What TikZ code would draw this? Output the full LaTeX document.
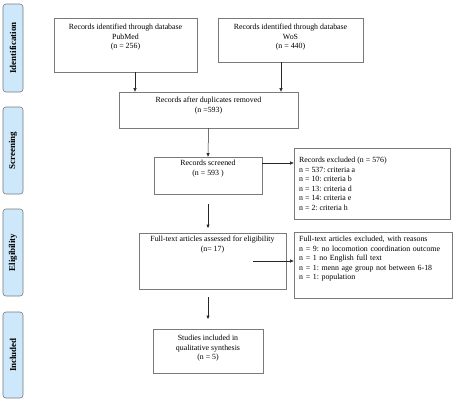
\documentclass[tikz,border=0pt]{standalone}
\usepackage{fontspec}
\setmainfont{Liberation Serif}
\usetikzlibrary{arrows.meta}
\definecolor{sidefill}{HTML}{CDE8FA}
\definecolor{boxline}{HTML}{7A7A7A}
\frenchspacing
\begin{document}
\begin{tikzpicture}[x=1bp,y=-1bp,
  box/.style={draw=boxline,line width=0.7bp,inner sep=0pt},
  sidebox/.style={draw=boxline,fill=sidefill,line width=0.6bp,rounded corners=3bp,inner sep=0pt},
  txt/.style={inner sep=0pt,align=center,font=\fontsize{7.9}{9.6}\selectfont,anchor=north},
  ltxt/.style={inner sep=0pt,align=left,font=\fontsize{7.9}{9.6}\selectfont,anchor=north west},
  sidetxt/.style={inner sep=0pt,rotate=90,font=\fontsize{9}{10}\selectfont\bfseries},
  arr/.style={-{Triangle[length=3.5bp,width=3bp]},line width=0.5bp,black!85}]
\useasboundingbox (0,0) rectangle (453,400);
\fill[white] (0,0) rectangle (453,400);
% side labels
\node[sidebox,minimum width=20bp,minimum height=88bp] (sid) at (13,48) {};
\node[sidebox,minimum width=20bp,minimum height=87bp] (sscr) at (13,150.5) {};
\node[sidebox,minimum width=20bp,minimum height=87bp] (selig) at (13,252.5) {};
\node[sidebox,minimum width=20bp,minimum height=86bp] (sinc) at (13,355) {};
\node[sidetxt] (tid) at (sid.center) {Identification};
\node[sidetxt] (tscr) at (sscr.center) {Screening};
\node[sidetxt] (telig) at (selig.center) {Eligibility};
\node[sidetxt] (tinc) at (sinc.center) {Included};
% boxes
\node[box,minimum width=143bp,minimum height=54bp] (pub) at (125.5,45) {};
\node[box,minimum width=145bp,minimum height=44bp] (wos) at (290.5,40) {};
\node[box,minimum width=179bp,minimum height=36bp] (dup) at (208.5,110) {};
\node[box,minimum width=108bp,minimum height=37bp] (scr) at (208,175.5) {};
\node[box,minimum width=156bp,minimum height=71bp] (exc1) at (372,183.5) {};
\node[box,minimum width=147bp,minimum height=56bp] (full) at (212.5,261) {};
\node[box,minimum width=158bp,minimum height=66bp] (exc2) at (373,265) {};
\node[box,minimum width=110bp,minimum height=44bp] (inc) at (208,351) {};
% texts
\node[txt] (tpub) at (125.5,24) {Records identified through database\\PubMed\\(n = 256)};
\node[txt] (twos) at (290.5,24) {Records identified through database\\WoS\\(n = 440)};
\node[txt] (tdup) at (208.5,97) {Records after duplicates removed\\(n =593)};
\node[txt] (tscrt) at (208,160) {Records screened\\(n = 593 )};
\node[ltxt] (texc1) at (299,157) {Records excluded (n = 576)\\n = 537: criteria a\\n = 10: criteria b\\n = 13: criteria d\\n = 14: criteria e\\n = 2: criteria h};
\node[txt] (tfull) at (212.5,236) {Full-text articles assessed for eligibility\\(n= 17)};
\node[ltxt,text width=148bp] (texc2) at (299,236) {\makebox[148bp][s]{Full-text articles excluded, with reasons}\\n = 9: no locomotion coordination outcome\\n = 1 no English full text\\n = 1: menn age group not between 6-18\\n = 1: population};
\node[txt] (tinct) at (208,335) {Studies included in\\qualitative synthesis\\(n = 5)};
% connectors
\coordinate (a1) at (208,204);
\coordinate (a2) at (208,228);
\coordinate (b1) at (253,261);
\coordinate (c1) at (208,297);
\coordinate (c2) at (208,319);
\draw[arr] (pub.south -| 135,0) -- (dup.north -| 135,0);
\draw[arr] (wos.south -| 281,0) -- (dup.north -| 281,0);
\draw[arr] (dup.south) -- (scr.north);
\draw[arr] (scr.east |- 0,163) -- (exc1.west |- 0,163);
\draw[arr] (a1) -- (a2);
\draw[arr] (b1) -- (exc2.west |- b1);
\draw[arr] (c1) -- (c2);
\end{tikzpicture}
\end{document}
